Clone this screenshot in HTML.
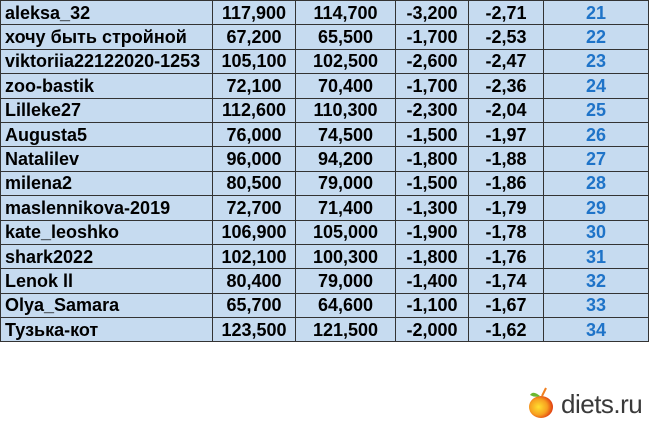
<!DOCTYPE html>
<html><head><meta charset="utf-8"><style>
body{margin:0;width:650px;height:426px;background:#fff;overflow:hidden;font-family:"Liberation Sans",Arial,sans-serif;}
table{position:absolute;left:0;top:0;border-collapse:collapse;background:#c6dbf0;}
td{border:1px solid #333;height:23.4px;padding:0;font-weight:bold;font-size:18px;color:#000;text-align:center;line-height:22px;}
td.n{text-align:left;padding-left:4px;}
td.b{color:#1e73c8;}
.logo{position:absolute;left:527px;top:386px;}
.lt{position:absolute;left:561px;top:389px;font-size:26px;color:#3a3a3a;letter-spacing:-0.5px;}
</style></head><body>
<table>
<colgroup><col style="width:212px"><col style="width:83px"><col style="width:100px"><col style="width:73px"><col style="width:75px"><col style="width:105px"></colgroup>
<tr><td class="n">aleksa_32</td><td>117,900</td><td>114,700</td><td>-3,200</td><td>-2,71</td><td class="b">21</td></tr>
<tr><td class="n">хочу быть стройной</td><td>67,200</td><td>65,500</td><td>-1,700</td><td>-2,53</td><td class="b">22</td></tr>
<tr><td class="n">viktoriia22122020-1253</td><td>105,100</td><td>102,500</td><td>-2,600</td><td>-2,47</td><td class="b">23</td></tr>
<tr><td class="n">zoo-bastik</td><td>72,100</td><td>70,400</td><td>-1,700</td><td>-2,36</td><td class="b">24</td></tr>
<tr><td class="n">Lilleke27</td><td>112,600</td><td>110,300</td><td>-2,300</td><td>-2,04</td><td class="b">25</td></tr>
<tr><td class="n">Augusta5</td><td>76,000</td><td>74,500</td><td>-1,500</td><td>-1,97</td><td class="b">26</td></tr>
<tr><td class="n">Natalilev</td><td>96,000</td><td>94,200</td><td>-1,800</td><td>-1,88</td><td class="b">27</td></tr>
<tr><td class="n">milena2</td><td>80,500</td><td>79,000</td><td>-1,500</td><td>-1,86</td><td class="b">28</td></tr>
<tr><td class="n">maslennikova-2019</td><td>72,700</td><td>71,400</td><td>-1,300</td><td>-1,79</td><td class="b">29</td></tr>
<tr><td class="n">kate_leoshko</td><td>106,900</td><td>105,000</td><td>-1,900</td><td>-1,78</td><td class="b">30</td></tr>
<tr><td class="n">shark2022</td><td>102,100</td><td>100,300</td><td>-1,800</td><td>-1,76</td><td class="b">31</td></tr>
<tr><td class="n">Lenok ll</td><td>80,400</td><td>79,000</td><td>-1,400</td><td>-1,74</td><td class="b">32</td></tr>
<tr><td class="n">Olya_Samara</td><td>65,700</td><td>64,600</td><td>-1,100</td><td>-1,67</td><td class="b">33</td></tr>
<tr><td class="n">Тузька-кот</td><td>123,500</td><td>121,500</td><td>-2,000</td><td>-1,62</td><td class="b">34</td></tr>
</table>
<svg class="logo" width="30" height="34" viewBox="0 0 30 34">
<defs><radialGradient id="g" cx="0.4" cy="0.5" r="0.6"><stop offset="0" stop-color="#ffe030"/><stop offset="0.6" stop-color="#f7a020"/><stop offset="1" stop-color="#e03a10"/></radialGradient></defs>
<ellipse cx="14" cy="21" rx="12" ry="11" fill="url(#g)"/>
<path d="M13 10 Q6 4 3 9 Q8 12 13 10Z" fill="#6cb830"/>
<path d="M15 10 L19 2" stroke="#f08020" stroke-width="2"/>
</svg>
<div class="lt">diets.ru</div>
</body></html>
